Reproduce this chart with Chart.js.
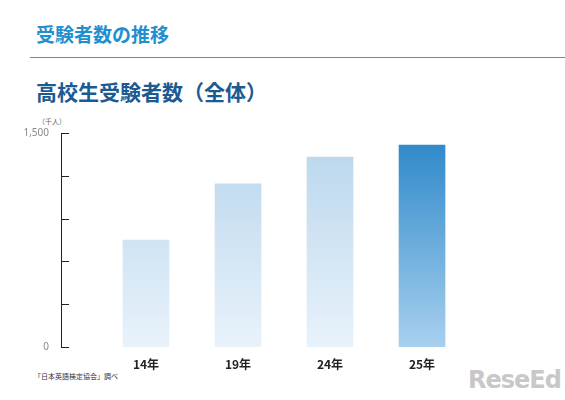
<!DOCTYPE html>
<html lang="ja">
<head>
<meta charset="UTF-8">
<script src="https://cdn.jsdelivr.net/npm/chart.js"></script>
<style>
  body { margin: 0; background: #fff; font-family: "Noto Sans CJK JP", sans-serif; }
  #wrap { position: relative; width: 565px; height: 400px; overflow: hidden; }
  canvas { position: absolute; left: 0; top: 0; }
  .t1 { position: absolute; left: 36px; top: 20px; font-size: 19px; font-weight: bold; color: #1f8fd0; }
  .line { position: absolute; left: 30px; right: 0; top: 57px; border-top: 1px solid #3c9bd6; }
  .t2 { position: absolute; left: 36px; top: 76px; font-size: 21px; font-weight: bold; color: #1b5a92; }
  .unit { position: absolute; left: 38px; top: 116px; font-size: 7px; color: #666; }
  .note { position: absolute; left: 34px; top: 371px; font-size: 7px; color: #333; }
  .logo { position: absolute; left: 468px; top: 366px; font-size: 24px; font-weight: bold; color: #c8c8c8; font-family: "DejaVu Sans", sans-serif; letter-spacing: -1px; }
</style>
</head>
<body>
<div id="wrap">
  <div class="t1">受験者数の推移</div>
  <div class="line"></div>
  <div class="t2">高校生受験者数（全体）</div>
  <div class="unit">（千人）</div>
  <div class="note">「日本英語検定協会」調べ</div>
  <div class="logo">ReseEd</div>
  <canvas id="c" width="565" height="400"></canvas>
</div>
<script>
const categories = ['14年', '19年', '24年', '25年'];
const values = [750, 1143, 1332, 1416];
const tickValues = [0, 300, 600, 900, 1200, 1500];

function grad(ctx, top, bottom) {
  const chart = ctx.chart;
  const a = chart.chartArea;
  if (!a) return top;
  const g = chart.ctx.createLinearGradient(0, a.top, 0, a.bottom);
  g.addColorStop(0, top);
  g.addColorStop(1, bottom);
  return g;
}

const innerTicks = {
  id: 'innerTicks',
  afterDraw(chart) {
    const y = chart.scales.y, c = chart.ctx, x0 = chart.chartArea.left;
    c.save();
    c.strokeStyle = '#222';
    c.lineWidth = 1;
    tickValues.forEach(v => {
      const py = Math.round(y.getPixelForValue(v)) + 0.5;
      c.beginPath(); c.moveTo(x0, py); c.lineTo(x0 + 8, py); c.stroke();
    });
    c.restore();
  }
};

new Chart(document.getElementById('c'), {
  type: 'bar',
  data: {
    datasets: [{
      data: values.map((v, i) => ({ x: i + 1, y: v })),
      barThickness: 46,
      backgroundColor: ctx => ctx.dataIndex === 3
        ? grad(ctx, '#2a86c8', '#a8d0ef')
        : grad(ctx, '#b8d5ec', '#e8f2fb')
    }]
  },
  options: {
    responsive: false,
    animation: false,
    layout: { padding: { top: 133, right: 0, left: 0, bottom: 0 } },
    plugins: { legend: { display: false }, tooltip: { enabled: false } },
    scales: {
      x: {
        type: 'linear', min: 0.076, max: 5.554, offset: false,
        grid: { display: false },
        border: { display: false },
        afterBuildTicks: s => { s.ticks = categories.map((_, i) => ({ value: i + 1 })); },
        afterFit: s => { s.height = 53; },
        ticks: {
          callback: v => categories[v - 1] || '',
          color: '#222', font: { size: 12, weight: 'bold', family: 'Noto Sans CJK JP' }, padding: 2
        }
      },
      y: {
        min: 0, max: 1500,
        grid: { display: false },
        border: { display: true, color: '#222', width: 1 },
        afterBuildTicks: s => { s.ticks = [{ value: 0 }, { value: 1500 }]; },
        afterFit: s => { s.width = 61; },
        ticks: {
          callback: v => v.toLocaleString('en-US'),
          color: '#888', font: { size: 10, family: 'Noto Sans' }, padding: 4
        }
      }
    }
  },
  plugins: [innerTicks]
});
</script>
</body>
</html>
